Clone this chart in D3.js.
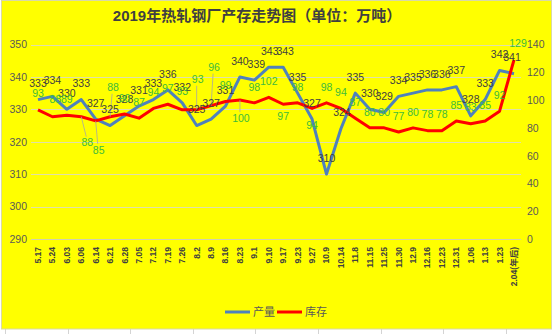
<!DOCTYPE html>
<html>
<head>
<meta charset="utf-8">
<script src="https://cdn.jsdelivr.net/npm/d3@7"></script>
<style>
  html, body { margin: 0; padding: 0; background: #ffffff; }
  svg { display: block; }
  text { font-family: "Liberation Sans", "Noto Sans CJK SC", sans-serif; }
</style>
</head>
<body>
<svg id="chart" width="554" height="334"></svg>
<script>
// Weekly dates (2019 – early 2020)
const categories = ["5.17","5.24","6.03","6.06","6.14","6.21","6.28","7.05","7.12","7.19","7.26",
  "8.2","8.9","8.16","8.23","9.1","9.10","9.17","9.23","9.27","10.9","10.14","11.8","11.15",
  "11.25","11.30","12.9","12.16","12.23","12.31","1.06","1.13","1.23","2.04(年后)"];

// 产量 (output), 万吨 — left axis
const production = [333,334,330,333,327,325,328,331,333,336,332,325,327,331,340,339,343,343,
  335,327,310,324,335,330,329,334,335,336,336,337,328,333,342,341];

// 库存 (inventory), 万吨 — right axis
const inventory = [93,88,89,88,85,88,90,87,94,97,93,93,96,99,100,98,102,97,98,94,98,94,87,80,
  80,77,80,78,78,85,83,85,92,129];

const leftTicks = [290,300,310,320,330,340,350];
const rightTicks = [0,20,40,60,80,100,120,140];

const seriesNames = ["产量","库存"];
const titleText = "2019年热轧钢厂产存走势图（单位：万吨）";

const svg = d3.select("#chart");
const W = 554, H = 334;

// spreadsheet cells behind the chart object
svg.append("rect").attr("width", W).attr("height", H).attr("fill", "#ffffff");
const cellLines = svg.append("g").attr("stroke", "#d4d4d4").attr("stroke-width", 1);
d3.range(5, W, 62.6).forEach(x => {
  cellLines.append("line").attr("x1", Math.round(x) + 0.5).attr("x2", Math.round(x) + 0.5)
    .attr("y1", 329).attr("y2", H);
});

// chart area
svg.append("rect").attr("x", 1.5).attr("y", 0.5).attr("width", 550).attr("height", 328.5)
  .attr("fill", "#ffff00").attr("stroke", "#d9d9a6").attr("stroke-width", 1);

const x = d3.scalePoint().domain(categories).range([38, 514]);
const yL = d3.scaleLinear().domain([290, 350]).range([239, 44.5]);
const yR = d3.scaleLinear().domain([0, 140]).range([239, 44.5]);

// gridlines follow the left axis
const grid = svg.append("g");
grid.selectAll("line").data(leftTicks).join("line")
  .attr("x1", 31).attr("x2", 521)
  .attr("y1", d => Math.round(yL(d)) + 0.5).attr("y2", d => Math.round(yL(d)) + 0.5)
  .attr("stroke", d => d === 290 ? "#d0d0b0" : "#e0e0a8").attr("stroke-width", 1.2);

// left axis
const axL = svg.append("g").attr("transform", "translate(28,0)")
  .call(d3.axisLeft(yL).tickValues(leftTicks).tickSize(0).tickPadding(1));
axL.select(".domain").remove();
axL.selectAll("text").attr("fill", "#595959").attr("font-size", 10.5);

// right axis
const axR = svg.append("g").attr("transform", "translate(526,0)")
  .call(d3.axisRight(yR).tickValues(rightTicks).tickSize(0).tickPadding(1));
axR.select(".domain").remove();
axR.selectAll("text").attr("fill", "#595959").attr("font-size", 10.5);

// category labels, rotated
const xl = svg.append("g");
xl.selectAll("text").data(categories).join("text")
  .attr("transform", d => `translate(${x(d)},247) rotate(-90)`)
  .attr("text-anchor", "end").attr("dy", "0.35em")
  .attr("font-size", 8.5).attr("font-weight", "bold").attr("fill", "#404040")
  .text(d => d);

// series lines
const lineP = d3.line().x((d, i) => x(categories[i])).y(d => yL(d));
const lineI = d3.line().x((d, i) => x(categories[i])).y(d => yR(d));

svg.append("path").datum(production).attr("d", lineP)
  .attr("fill", "none").attr("stroke", "#4f81bd").attr("stroke-width", 3)
  .attr("stroke-linejoin", "round");
svg.append("path").datum(inventory).attr("d", lineI)
  .attr("fill", "none").attr("stroke", "#ff0000").attr("stroke-width", 3)
  .attr("stroke-linejoin", "round");

// data labels: default above the point, a few nudged aside with leader lines
const prodNudge = { "9.1": [2, 0], "9.10": [1, 0], "9.17": [2, 0], "2.04(年后)": [-2, 0], "10.14": [1, 0] };
const invNudge = {
  "5.24": [3, -1], "6.06": [6, 42], "6.14": [3, 45], "6.21": [3, -13],
  "7.26": [0, -2], "8.2": [1, -14], "8.9": [3, -22], "8.23": [1, 34],
  "9.17": [0, 28], "9.27": [0, 33], "2.04(年后)": [4, 0]
};
const leaders = ["6.06", "6.14", "6.21", "8.2", "8.9", "8.23"];

const labels = svg.append("g");
const leaderG = labels.append("g").attr("stroke", "#a6a6a6").attr("stroke-width", 0.8);

production.forEach((v, i) => {
  const c = categories[i];
  const n = prodNudge[c] || [0, 0];
  labels.append("text")
    .attr("x", x(c) + n[0]).attr("y", yL(v) - 16 + n[1])
    .attr("text-anchor", "middle").attr("dy", "0.35em")
    .attr("font-size", 10.5).attr("fill", "#404040")
    .text(v);
});

inventory.forEach((v, i) => {
  const c = categories[i];
  const n = invNudge[c] || [0, 0];
  const lx = x(c) + n[0], ly = yR(v) - 16 + n[1];
  if (leaders.includes(c)) {
    const below = ly > yR(v);
    leaderG.append("line")
      .attr("x1", x(c)).attr("y1", yR(v))
      .attr("x2", lx - 1).attr("y2", below ? ly - 6 : ly + 6);
  }
  labels.append("text")
    .attr("x", lx).attr("y", ly)
    .attr("text-anchor", "middle").attr("dy", "0.35em")
    .attr("font-size", 10.5).attr("fill", "#3dbb3d")
    .text(v);
});

// title
svg.append("text").attr("x", 257).attr("y", 16).attr("dy", "0.35em")
  .attr("text-anchor", "middle").attr("font-size", 15).attr("font-weight", "bold")
  .attr("fill", "#404040").text(titleText);

// legend
const legend = svg.append("g");
const legColors = ["#4f81bd", "#ff0000"];
const legX = [225, 277];
seriesNames.forEach((name, i) => {
  legend.append("line").attr("x1", legX[i]).attr("x2", legX[i] + 25)
    .attr("y1", 312).attr("y2", 312).attr("stroke", legColors[i]).attr("stroke-width", 3);
  legend.append("text").attr("x", legX[i] + 28).attr("y", 312).attr("dy", "0.35em")
    .attr("font-size", 11).attr("fill", "#595959").text(name);
});
</script>
</body>
</html>
